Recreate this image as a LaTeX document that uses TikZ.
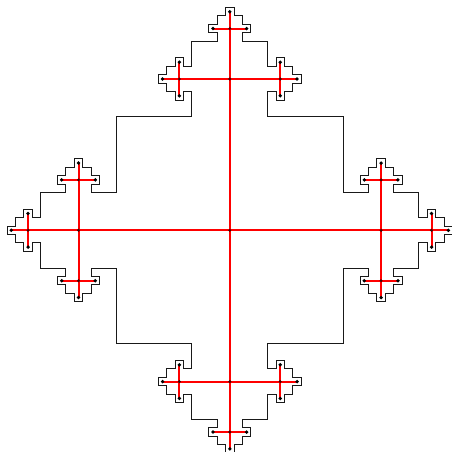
\documentclass[tikz,border=0pt]{standalone}
\definecolor{treered}{RGB}{255,0,0}
\begin{document}
\begin{tikzpicture}[x=4.203pt,y=4.203pt,
  outline/.style={draw=black!90,line width=1.0pt,line join=miter},
  treeedge/.style={draw=treered,line width=2.0pt},
  leafdot/.style={fill=black},
  innerdot/.style={fill=black!75!red}]
\useasboundingbox (-54.68,-52.75) rectangle (52.87,54.80);
\begin{scope}
\clip (-54.68,-52.75) rectangle (52.87,54.80);
% staircase outline
\draw[outline] (-27,27)
  \foreach \a/\b/\c/\d in {1/0/0/1, 0/1/-1/0, -1/0/0/-1, 0/-1/1/0}{
    \foreach \x/\y in {-9/27,-9/33,-11/33,-11/31,-13/31,-13/33,-15/33,-15/35,-17/35,-17/37,-15/37,-15/39,-13/39,-13/41,-11/41,-11/39,-9/39,-9/45,-3/45,-3/47,-5/47,-5/49,-3/49,-3/51,-1/51,-1/53,1/53,1/51,3/51,3/49,5/49,5/47,3/47,3/45,9/45,9/39,11/39,11/41,13/41,13/39,15/39,15/37,17/37,17/35,15/35,15/33,13/33,13/31,11/31,11/33,9/33,9/27,27/27}{
      -- ({\a*\x+\b*\y},{\c*\x+\d*\y})
    }
  } -- cycle;
% tree coordinates
\coordinate (C) at (0,0);
\foreach \rot in {0,90,180,270}{
  \begin{scope}[rotate=\rot]
    \coordinate (A\rot) at (0,36);
    \coordinate (B\rot u) at (0,48);
    \coordinate (B\rot l) at (-12,36);
    \coordinate (B\rot r) at (12,36);
    \coordinate (L\rot uu) at (0,52);
    \coordinate (L\rot ul) at (-4,48);
    \coordinate (L\rot ur) at (4,48);
    \coordinate (L\rot ll) at (-16,36);
    \coordinate (L\rot lu) at (-12,40);
    \coordinate (L\rot ld) at (-12,32);
    \coordinate (L\rot rr) at (16,36);
    \coordinate (L\rot ru) at (12,40);
    \coordinate (L\rot rd) at (12,32);
  \end{scope}
}
% tree edges
\draw[treeedge]
  \foreach \rot in {0,90,180,270}{
    (C) -- (A\rot)
    (A\rot) -- (B\rot u) (A\rot) -- (B\rot l) (A\rot) -- (B\rot r)
    (B\rot u) -- (L\rot uu) (B\rot u) -- (L\rot ul) (B\rot u) -- (L\rot ur)
    (B\rot l) -- (L\rot ll) (B\rot l) -- (L\rot lu) (B\rot l) -- (L\rot ld)
    (B\rot r) -- (L\rot rr) (B\rot r) -- (L\rot ru) (B\rot r) -- (L\rot rd)
  };
% dots
\fill[innerdot] (C) circle (1.6pt);
\foreach \rot in {0,90,180,270}{
  \fill[innerdot] (A\rot) circle (1.6pt);
  \foreach \s in {u,l,r}{\fill[innerdot] (B\rot\s) circle (1.6pt);}
  \foreach \s in {uu,ul,ur,ll,lu,ld,rr,ru,rd}{\fill[leafdot] (L\rot\s) circle (1.9pt);}
}
\end{scope}
\end{tikzpicture}
\end{document}
